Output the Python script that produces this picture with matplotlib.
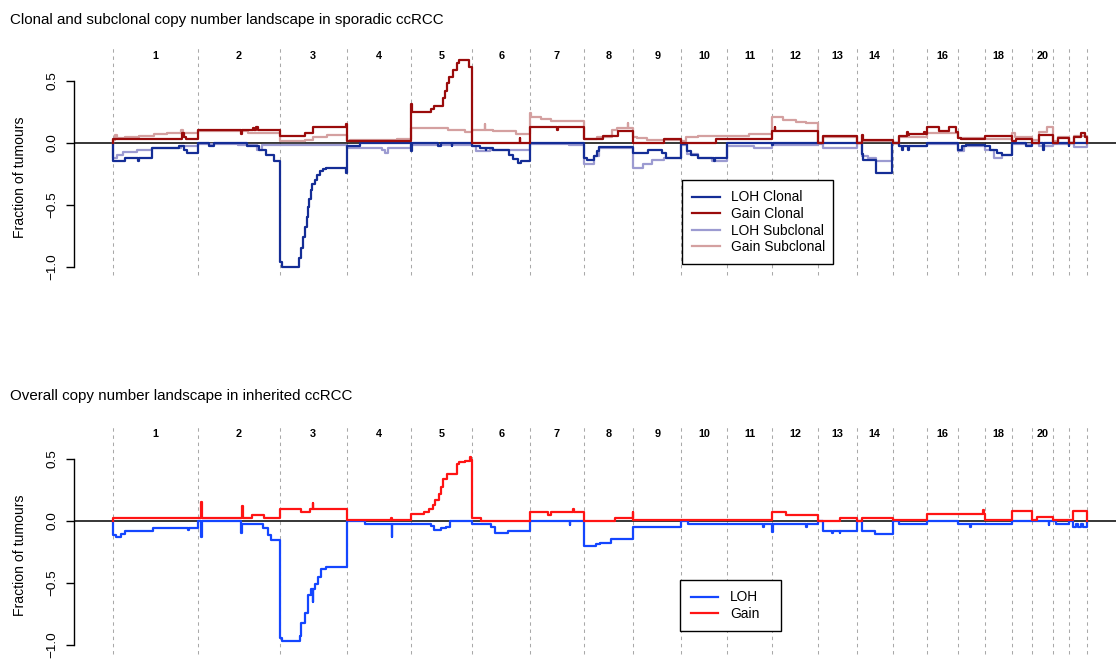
import matplotlib
matplotlib.use("Agg")
import matplotlib.pyplot as plt
from matplotlib.lines import Line2D

plt.rcParams['font.family'] = ['Liberation Sans', 'DejaVu Sans']
plt.rcParams['axes.unicode_minus'] = True

# ---------------- data ----------------
chrom_names = [str(i) for i in range(1, 23)]
chrom_lengths = [249.25, 243.20, 198.02, 191.15, 180.92, 171.12, 159.14, 146.36,
                 141.21, 135.53, 135.01, 133.85, 115.17, 107.35, 102.53, 90.35,
                 81.20, 78.08, 59.13, 63.03, 48.13, 51.30]
shown_labels = ['1', '2', '3', '4', '5', '6', '7', '8', '9', '10', '11', '12',
                '13', '14', '16', '18', '20']

# (chromosome, start within chromosome [Mb], fraction of tumours)
loh_clonal = [
    (1, 0, -0.15), (1, 35, -0.125), (1, 74, -0.15), (1, 76, -0.125), (1, 115, -0.045),
    (1, 195, -0.025), (1, 208, -0.06), (1, 218, -0.085),
    (2, 0, 0.0), (2, 34, -0.03), (2, 50, 0.0), (2, 145, -0.03), (2, 182, -0.06),
    (2, 203, -0.1), (2, 225, -0.15),
    (3, 0, -0.96), (3, 7, -1.0), (3, 57, -0.93), (3, 63, -0.85), (3, 70, -0.76),
    (3, 74, -0.68), (3, 80, -0.6), (3, 84, -0.52), (3, 88, -0.45), (3, 92, -0.38),
    (3, 97, -0.33), (3, 103, -0.3), (3, 110, -0.26), (3, 118, -0.23), (3, 128, -0.21),
    (3, 138, -0.205), (3, 196, -0.24),
    (4, 0, -0.025), (4, 40, 0.0),
    (5, 0, -0.07), (5, 2, 0.0), (5, 80, -0.025), (5, 88, 0.0), (5, 120, -0.025), (5, 122, 0.0),
    (6, 0, -0.027), (6, 22, -0.04), (6, 40, -0.06), (6, 42, -0.04), (6, 61, -0.06),
    (6, 110, -0.1), (6, 120, -0.13), (6, 135, -0.16), (6, 145, -0.15),
    (7, 0, 0.0),
    (8, 0, -0.12), (8, 8, -0.14), (8, 30, -0.11), (8, 38, -0.07), (8, 45, -0.035),
    (9, 0, -0.086), (9, 44, -0.055), (9, 86, -0.08), (9, 97, -0.12),
    (10, 0, -0.01), (10, 19, -0.07), (10, 30, -0.1), (10, 51, -0.125), (10, 98, -0.15),
    (10, 101, -0.12),
    (11, 0, 0.0),
    (12, 0, -0.02), (12, 3, 0.0),
    (13, 0, 0.0),
    (14, 0, 0.0), (14, 16, -0.09), (14, 20, -0.14), (14, 58, -0.24), (14, 105, 0.0),
    (15, 0, 0.0), (15, 18, -0.03), (15, 28, -0.06), (15, 30, -0.03), (15, 45, -0.06),
    (15, 47, -0.03),
    (16, 0, 0.0),
    (17, 0, -0.06), (17, 13, -0.03), (17, 23, -0.02),
    (18, 0, -0.03), (18, 15, -0.06), (18, 34, -0.085), (18, 49, -0.1),
    (19, 0, 0.0), (19, 42, -0.027),
    (20, 0, 0.0), (20, 34, -0.06), (20, 36, 0.0),
    (21, 0, 0.0), (21, 46, -0.03),
    (22, 0, 0.0),
]

gain_clonal = [
    (1, 0, 0.03), (1, 203, 0.075), (1, 208, 0.05), (1, 215, 0.03),
    (2, 0, 0.1), (2, 128, 0.07), (2, 131, 0.1), (2, 165, 0.12), (2, 168, 0.1),
    (2, 172, 0.125), (2, 180, 0.1),
    (3, 0, 0.056), (3, 74, 0.075), (3, 99, 0.124), (3, 196, 0.15),
    (4, 0, 0.012),
    (5, 0, 0.31), (5, 2, 0.25), (5, 59, 0.27), (5, 69, 0.3), (5, 94, 0.36), (5, 99, 0.42),
    (5, 106, 0.48), (5, 113, 0.53), (5, 123, 0.585), (5, 135, 0.64), (5, 143, 0.665),
    (5, 172, 0.61),
    (6, 0, 0.0), (6, 140, 0.035), (6, 142, 0.0),
    (7, 0, 0.124), (7, 80, 0.1), (7, 82, 0.124),
    (8, 0, 0.03), (8, 57, 0.054), (8, 102, 0.097),
    (9, 0, 0.0), (9, 92, 0.033),
    (10, 0, 0.0), (10, 104, 0.03),
    (11, 0, 0.03),
    (12, 0, 0.097), (12, 7, 0.13), (12, 9, 0.097),
    (13, 0, 0.0), (13, 16, 0.056),
    (14, 0, 0.0), (14, 16, 0.06), (14, 19, 0.02),
    (15, 0, 0.0), (15, 18, 0.056), (15, 43, 0.09), (15, 46, 0.06), (15, 48, 0.07),
    (15, 93, 0.09), (15, 95, 0.07),
    (16, 0, 0.124), (16, 35, 0.097), (16, 64, 0.124), (16, 84, 0.09),
    (17, 0, 0.035), (17, 8, 0.027),
    (18, 0, 0.056),
    (19, 0, 0.01), (19, 12, 0.03),
    (20, 0, 0.0), (20, 20, 0.06),
    (21, 0, 0.0), (21, 15, 0.035),
    (22, 0, 0.0), (22, 15, 0.05), (22, 35, 0.075), (22, 45, 0.045),
]

loh_subclonal = [
    (1, 0, -0.12), (1, 10, -0.1), (1, 30, -0.075), (1, 70, -0.06), (1, 115, -0.045),
    (1, 200, -0.03),
    (2, 0, -0.01), (2, 120, -0.02), (2, 175, -0.06), (2, 190, -0.02),
    (3, 0, -0.02), (3, 60, -0.015),
    (4, 0, -0.04), (4, 105, -0.06), (4, 115, -0.085), (4, 122, -0.045),
    (5, 0, -0.015),
    (6, 0, -0.03), (6, 12, -0.07), (6, 52, -0.055),
    (7, 0, -0.01), (7, 115, -0.016),
    (8, 0, -0.175), (8, 30, -0.11), (8, 45, -0.046),
    (9, 0, -0.2), (9, 30, -0.17), (9, 55, -0.14), (9, 90, -0.125),
    (10, 0, -0.02), (10, 19, -0.09), (10, 50, -0.125), (10, 92, -0.15),
    (11, 0, -0.027), (11, 80, -0.042),
    (12, 0, -0.02),
    (13, 0, -0.01), (13, 16, -0.046),
    (14, 0, 0.0), (14, 16, -0.11), (14, 35, -0.125), (14, 58, -0.145), (14, 105, 0.0),
    (15, 0, 0.0), (15, 18, -0.027),
    (16, 0, -0.01),
    (17, 0, -0.07), (17, 18, -0.025),
    (18, 0, -0.06), (18, 25, -0.125), (18, 49, -0.1),
    (19, 0, -0.01),
    (20, 0, 0.0), (20, 20, -0.027),
    (21, 0, -0.01),
    (22, 0, 0.0), (22, 15, -0.032),
]

gain_subclonal = [
    (1, 0, 0.02), (1, 5, 0.06), (1, 10, 0.035), (1, 35, 0.048), (1, 75, 0.056),
    (1, 120, 0.067), (1, 160, 0.08), (1, 200, 0.1), (1, 205, 0.08),
    (2, 0, 0.095), (2, 150, 0.075),
    (3, 0, 0.01), (3, 75, 0.025), (3, 100, 0.045), (3, 140, 0.065),
    (4, 0, 0.01), (4, 10, 0.02), (4, 150, 0.03),
    (5, 0, 0.115), (5, 108, 0.1), (5, 158, 0.09),
    (6, 0, 0.105), (6, 37, 0.15), (6, 39, 0.105), (6, 61, 0.095), (6, 130, 0.07),
    (7, 0, 0.24), (7, 3, 0.205), (7, 33, 0.19), (7, 62, 0.175),
    (8, 0, 0.03), (8, 38, 0.045), (8, 82, 0.1), (8, 97, 0.12), (8, 130, 0.16), (8, 132, 0.12),
    (9, 0, 0.05), (9, 10, 0.04), (9, 40, 0.025),
    (10, 0, 0.01), (10, 15, 0.045), (10, 50, 0.058),
    (11, 0, 0.055), (11, 66, 0.067),
    (12, 0, 0.205), (12, 30, 0.185), (12, 69, 0.17), (12, 99, 0.155),
    (13, 0, 0.0), (13, 16, 0.05),
    (14, 0, 0.0), (14, 16, 0.015),
    (15, 0, 0.0), (15, 18, 0.05),
    (16, 0, 0.075),
    (17, 0, 0.035),
    (18, 0, 0.03),
    (19, 0, 0.08), (19, 10, 0.045),
    (20, 0, 0.02), (20, 20, 0.09), (20, 45, 0.13),
    (21, 0, 0.01), (21, 15, 0.05),
    (22, 0, 0.0), (22, 15, 0.055),
]

loh_inherited = [
    (1, 0, -0.11), (1, 8, -0.125), (1, 22, -0.105), (1, 35, -0.08), (1, 118, -0.055),
    (1, 222, -0.07), (1, 224, -0.055),
    (2, 0, 0.0), (2, 11, -0.125), (2, 13, 0.0), (2, 130, -0.1), (2, 132, -0.025),
    (2, 195, -0.06), (2, 208, -0.11), (2, 218, -0.155),
    (3, 0, -0.94), (3, 8, -0.97), (3, 60, -0.93), (3, 64, -0.82), (3, 74, -0.74),
    (3, 84, -0.6), (3, 94, -0.55), (3, 99, -0.65), (3, 100, -0.55), (3, 103, -0.51),
    (3, 113, -0.45), (3, 123, -0.39), (3, 138, -0.373),
    (4, 0, 0.0), (4, 53, -0.027), (4, 133, -0.125), (4, 135, -0.027),
    (5, 0, -0.025), (5, 59, -0.04), (5, 69, -0.075), (5, 89, -0.06), (5, 104, -0.045),
    (5, 114, 0.0),
    (6, 0, -0.025), (6, 56, -0.05), (6, 66, -0.1), (6, 105, -0.078),
    (7, 0, 0.0), (7, 117, -0.03), (7, 119, 0.0),
    (8, 0, -0.2), (8, 37, -0.185), (8, 47, -0.175), (8, 79, -0.147),
    (9, 0, -0.05),
    (10, 0, 0.0), (10, 20, -0.025),
    (11, 0, -0.025), (11, 107, -0.045), (11, 110, -0.025),
    (12, 0, -0.09), (12, 2, -0.025), (12, 100, -0.05), (12, 102, -0.025),
    (13, 0, 0.0), (13, 16, -0.078), (13, 42, -0.1), (13, 44, -0.078), (13, 65, -0.1),
    (13, 67, -0.078),
    (14, 0, 0.0), (14, 15, -0.078), (14, 54, -0.105),
    (15, 0, 0.0), (15, 18, -0.027),
    (16, 0, 0.0),
    (17, 0, -0.02), (17, 35, -0.045), (17, 38, -0.02),
    (18, 0, -0.02),
    (19, 0, 0.0),
    (20, 0, 0.0), (20, 50, -0.03), (20, 52, 0.0),
    (21, 0, 0.0), (21, 10, -0.027),
    (22, 0, 0.0), (22, 12, -0.045), (22, 20, -0.02), (22, 25, -0.045), (22, 35, -0.02),
    (22, 40, -0.045),
]

gain_inherited = [
    (1, 0, 0.025),
    (2, 0, 0.022), (2, 11, 0.155), (2, 13, 0.022), (2, 132, 0.12), (2, 134, 0.022),
    (2, 160, 0.05), (2, 198, 0.025),
    (3, 0, 0.094), (3, 64, 0.075), (3, 89, 0.097), (3, 98, 0.145), (3, 100, 0.097),
    (4, 0, 0.005), (4, 131, 0.027), (4, 133, 0.005),
    (5, 0, 0.054), (5, 39, 0.075), (5, 54, 0.095), (5, 64, 0.13), (5, 71, 0.17),
    (5, 81, 0.22), (5, 89, 0.275), (5, 95, 0.34), (5, 105, 0.38), (5, 135, 0.46),
    (5, 143, 0.475), (5, 158, 0.485), (5, 173, 0.52), (5, 178, 0.49),
    (6, 0, 0.022), (6, 27, 0.0),
    (7, 0, 0.075), (7, 52, 0.05), (7, 62, 0.075), (7, 128, 0.095), (7, 130, 0.075),
    (8, 0, 0.0), (8, 92, 0.027), (8, 144, 0.07),
    (9, 0, 0.005),
    (10, 0, 0.005),
    (11, 0, 0.005),
    (12, 0, 0.075), (12, 40, 0.05),
    (13, 0, 0.0), (13, 65, 0.022),
    (14, 0, 0.0), (14, 15, 0.022),
    (15, 0, 0.005),
    (16, 0, 0.054),
    (17, 0, 0.054), (17, 75, 0.09), (17, 77, 0.054),
    (18, 0, 0.005),
    (19, 0, 0.08),
    (20, 0, 0.005), (20, 15, 0.035),
    (21, 0, 0.005),
    (22, 0, 0.005), (22, 12, 0.08),
]

titles = ["Clonal and subclonal copy number landscape in sporadic ccRCC",
          "Overall copy number landscape in inherited ccRCC"]

# ---------------- derived positions ----------------
offsets = [0.0]
for L in chrom_lengths:
    offsets.append(offsets[-1] + L)
genome_end = offsets[-1]
centers = {chrom_names[i]: (offsets[i] + offsets[i + 1]) / 2 for i in range(len(chrom_names))}


def step_xy(series):
    xs, ys = [0.0], [0.0]
    for c, s, v in series:
        xs.append(offsets[c - 1] + s)
        ys.append(v)
    xs += [genome_end, genome_end]
    ys += [ys[-1], 0.0]
    return xs, ys


# ---------------- figure ----------------
W, H = 1116, 659
fig = plt.figure(figsize=(W / 100, H / 100), dpi=100)

ext = 0.04 * genome_end
xlim = (-ext, genome_end + ext)
ylim = (-1.328, 0.778)
ax_left_px, ax_right_px = 74.4, 1125.6
panel_tops = [46.2, 424.5]
panel_h = 261.3

FS = 9.7
COL_DASH = '#a9a9a9'


def setup_axes(top_px):
    ax = fig.add_axes([ax_left_px / W, 1 - (top_px + panel_h) / H,
                       (ax_right_px - ax_left_px) / W, panel_h / H])
    ax.set_xlim(*xlim)
    ax.set_ylim(*ylim)
    for sp in ['top', 'right', 'bottom']:
        ax.spines[sp].set_visible(False)
    ax.spines['left'].set_bounds(-1, 0.5)
    ax.spines['left'].set_linewidth(1.0)
    ax.set_xticks([])
    ax.set_yticks([-1, -0.5, 0, 0.5])
    ax.set_yticklabels(['\u22121.0', '\u22120.5', '0.0', '0.5'])
    ax.tick_params(axis='y', length=5.8, width=1.0, pad=6, labelsize=FS)
    for lab in ax.get_yticklabels():
        lab.set_rotation(90)
        lab.set_va('center')
    ax.set_ylabel('Fraction of tumours', fontsize=10.1)
    ax.yaxis.set_label_coords(-0.0515, 0.5)
    ax.yaxis.label.set_va('center')
    ax.patch.set_visible(False)
    ax.vlines(offsets, -1.07, ylim[1], colors=COL_DASH, linewidth=0.75,
              linestyles=(0, (3.3, 3.6)), zorder=1)
    ax.axhline(0, color='black', linewidth=1.1, zorder=2)
    for lab in shown_labels:
        ax.text(centers[lab], 0.7, lab, ha='center', va='center',
                fontsize=7.8, fontweight='bold')
    return ax


LW = 1.6
# top panel
ax1 = setup_axes(panel_tops[0])
for series, col, z in [(loh_subclonal, '#9c9bd1', 3), (gain_subclonal, '#d4a0a0', 3),
                       (loh_clonal, '#142d96', 4), (gain_clonal, '#9a0b0b', 4)]:
    xs, ys = step_xy(series)
    ax1.step(xs, ys, where='post', color=col, linewidth=LW, zorder=z)

# bottom panel
ax2 = setup_axes(panel_tops[1])
for series, col in [(loh_inherited, '#1446ff'), (gain_inherited, '#ff1414')]:
    xs, ys = step_xy(series)
    ax2.step(xs, ys, where='post', color=col, linewidth=LW, zorder=4)

fig.text(10 / W, 1 - 20 / H, titles[0], ha='left', va='center', fontsize=10.9)
fig.text(10 / W, 1 - 396 / H, titles[1], ha='left', va='center', fontsize=10.9)

# legends
def add_legend(ax, labels, colors, left_px, top_px, width_px):
    handles = [Line2D([], [], color=c, linewidth=LW) for c in colors]
    leg = ax.legend(handles, labels, loc='upper left',
                    bbox_to_anchor=(left_px / W, 1 - top_px / H, width_px / W, 0),
                    bbox_transform=fig.transFigure, mode='expand',
                    fontsize=9.9, handlelength=2.0, handletextpad=0.87,
                    borderpad=0.75, labelspacing=0.19, borderaxespad=0,
                    fancybox=False, framealpha=1, edgecolor='black')
    leg.get_frame().set_linewidth(1.0)
    leg.set_zorder(10)
    return leg

add_legend(ax1, ['LOH Clonal', 'Gain Clonal', 'LOH Subclonal', 'Gain Subclonal'],
           ['#142d96', '#9a0b0b', '#9c9bd1', '#d4a0a0'], 681.7, 180, 151)
add_legend(ax2, ['LOH', 'Gain'], ['#1446ff', '#ff1414'], 680.3, 580, 100.7)

fig.savefig('out.png', dpi=100)
